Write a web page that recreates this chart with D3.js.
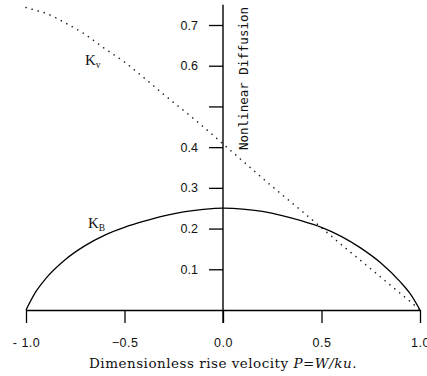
<!DOCTYPE html>
<html>
<head>
<meta charset="utf-8">
<script src="https://cdn.jsdelivr.net/npm/d3@7/dist/d3.min.js"></script>
<style>
  body { margin: 0; background: #fff; }
  svg { display: block; }
</style>
</head>
<body>
<div id="chart"></div>
<script>
// values
const pValues = [-1, -0.95, -0.9, -0.8, -0.7, -0.6, -0.5, -0.4, -0.3, -0.2, -0.1, 0,
                 0.1, 0.2, 0.3, 0.4, 0.5, 0.6, 0.7, 0.8, 0.9, 0.95, 1];
const kB = [0, 0.045, 0.077, 0.124, 0.158, 0.184, 0.203, 0.218, 0.231, 0.241, 0.247, 0.250,
            0.248, 0.242, 0.232, 0.219, 0.203, 0.181, 0.152, 0.116, 0.069, 0.040, 0];
const kV = [0.743, 0.736, 0.729, 0.705, 0.677, 0.642, 0.609, 0.570, 0.529, 0.490, 0.450, 0.408,
            0.366, 0.324, 0.283, 0.243, 0.202, 0.161, 0.121, 0.081, 0.041, 0.021, 0];
const xTicks = [-1, -0.5, 0, 0.5, 1];
const xTickLabels = ['- 1.0', '\u22120.5', '0.0', '0.5', '1.0'];
const yTicks = [0.1, 0.2, 0.3, 0.4, 0.5, 0.6, 0.7];
const yTickLabels = ['0.1', '0.2', '0.3', '0.4', '', '0.6', '0.7'];

const width = 427, height = 376;

const svg = d3.select('#chart').append('svg')
  .attr('width', width)
  .attr('height', height);

const x = d3.scaleLinear().domain([-1, 1]).range([26, 420]);
const y = d3.scaleLinear().domain([0, 0.7]).range([310, 25]);

const tickLen = 13;

/* ---------- x axis ---------- */
const xAxis = d3.axisBottom(x)
  .tickValues(xTicks)
  .tickFormat((d, i) => xTickLabels[i])
  .tickSize(tickLen)
  .tickSizeOuter(0)
  .tickPadding(15);

const gx = svg.append('g')
  .attr('transform', 'translate(0,' + y(0) + ')')
  .call(xAxis);
gx.select('.domain').attr('stroke-width', 1.4);
gx.selectAll('.tick line').attr('stroke-width', 1.3);
gx.selectAll('.tick text')
  .style('font-family', '"Liberation Sans", Arial, sans-serif')
  .style('font-size', '12.5px')
  .style('letter-spacing', '0.5px')
  .attr('fill', '#111');

/* ---------- y axis ---------- */
const yAxis = d3.axisLeft(y)
  .tickValues(yTicks)
  .tickFormat((d, i) => yTickLabels[i])
  .tickSize(14)
  .tickSizeOuter(0)
  .tickPadding(11);

const gy = svg.append('g')
  .attr('transform', 'translate(' + x(0) + ',0)')
  .call(yAxis);
gy.select('.domain').remove();
gy.selectAll('.tick line').attr('stroke-width', 1.3);
gy.selectAll('.tick text')
  .style('font-family', '"Liberation Sans", Arial, sans-serif')
  .style('font-size', '12.5px')
  .attr('fill', '#111');

// y axis line runs a little above 0.7 and down past the x axis
gy.append('line')
  .attr('x1', 0).attr('x2', 0)
  .attr('y1', y(0.75))
  .attr('y2', y(0) + tickLen)
  .attr('stroke', '#000')
  .attr('stroke-width', 1.4);

/* ---------- curves ---------- */
const line = d3.line()
  .x(d => x(d[0]))
  .y(d => y(d[1]))
  .curve(d3.curveMonotoneX);

svg.append('path')
  .datum(pValues.map((p, i) => [p, kB[i]]))
  .attr('d', line)
  .attr('fill', 'none')
  .attr('stroke', '#000')
  .attr('stroke-width', 1.3);

svg.append('path')
  .datum(pValues.map((p, i) => [p, kV[i]]))
  .attr('d', line)
  .attr('fill', 'none')
  .attr('stroke', '#222')
  .attr('stroke-width', 1.6)
  .attr('stroke-linecap', 'round')
  .attr('stroke-dasharray', '0.1,6.2');

/* ---------- labels ---------- */
function kLabel(px, py, sub) {
  const t = svg.append('text')
    .attr('x', px).attr('y', py)
    .style('font-family', '"Liberation Serif", "Times New Roman", serif')
    .style('font-size', '15px')
    .attr('fill', '#111');
  t.append('tspan').text('K');
  t.append('tspan')
    .attr('dy', 3)
    .style('font-size', '9.5px')
    .text(sub);
}
kLabel(85, 65, 'v');
kLabel(88, 228, 'B');

svg.append('text')
  .attr('transform', 'translate(248,150) rotate(-90)')
  .style('font-family', '"DejaVu Sans Mono", monospace')
  .style('font-size', '12.5px')
  .attr('fill', '#111')
  .text('Nonlinear Diffusion');

const xl = svg.append('text')
  .attr('x', x(0))
  .attr('y', 368)
  .attr('text-anchor', 'middle')
  .style('font-family', '"DejaVu Serif", serif')
  .style('font-size', '13.5px')
  .style('letter-spacing', '0.5px')
  .attr('fill', '#111');
xl.append('tspan').text('Dimensionless rise velocity ');
xl.append('tspan').style('font-style', 'italic').text('P=W/ku.');
</script>
</body>
</html>
